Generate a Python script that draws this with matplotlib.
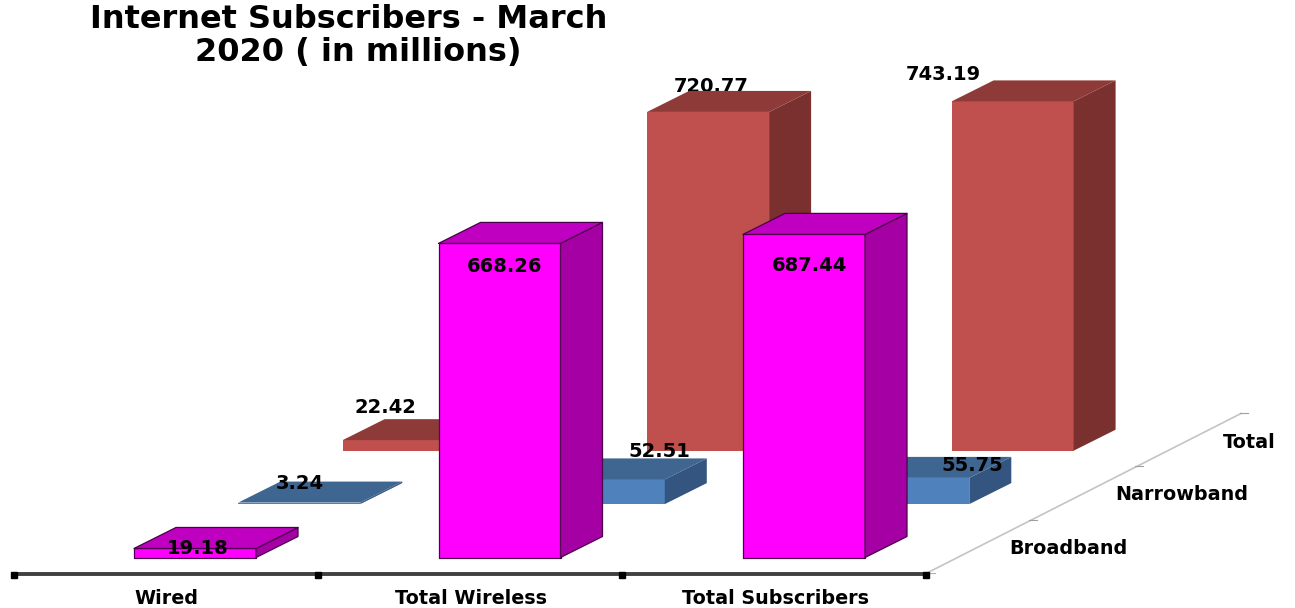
import matplotlib
matplotlib.use("Agg")
import matplotlib.pyplot as plt
from matplotlib.patches import Polygon

# ---- data ----
title_lines = ["Internet Subscribers - March", "2020 ( in millions)"]
categories = ["Wired", "Total Wireless", "Total Subscribers"]
series_names = ["Broadband", "Narrowband", "Total"]
broadband = [19.18, 668.26, 687.44]
narrowband = [3.24, 52.51, 55.75]
total = [22.42, 720.77, 743.19]
values = [broadband, narrowband, total]

# ---- oblique projection style (pixels) ----
W, H = 1295, 608
X0, Y0 = 134, 557.5      # front-left base of first bar
CAT_STEP = 304.5
SER_DX, SER_DY = 104.3, -53.4
BAR_W = 122
DEP_DX, DEP_DY = 42, -21
PX_PER_UNIT = 0.47

styles = [
    dict(front="#FF00FF", top="#C000C0", side="#A400A4", edge="#4A004A", lw=0.9),
    dict(front="#4F81BD", top="#3F6591", side="#34557F", edge="none", lw=0),
    dict(front="#C0504D", top="#8E3A38", side="#7A302E", edge="none", lw=0),
]
# label offsets from the bar's front-top centre: (dx, dy) per series / category
label_off = [
    [(3, 0), (5, 23), (5, 31)],
    [(0, -19), (56, -28), (64, -12)],
    [(-18, -33), (3, -25), (-69, -27)],
]
series_label_x = [1068, 1182, 1249]
series_label_y = [549, 495, 442]
category_label_x = [166, 471, 776]

fig = plt.figure(figsize=(W / 100, H / 100), dpi=100)
ax = fig.add_axes([0, 0, 1, 1])
ax.set_xlim(0, W)
ax.set_ylim(H, 0)
ax.axis("off")
FONT = "DejaVu Sans"


def origin(c, s):
    return X0 + c * CAT_STEP + s * SER_DX, Y0 + s * SER_DY


def draw_bar(c, s, v, st, z):
    x, y = origin(c, s)
    t = y - v * PX_PER_UNIT
    kw = dict(edgecolor=st["edge"], linewidth=st["lw"], joinstyle="round", zorder=z)
    ax.add_patch(Polygon([(x, y), (x + BAR_W, y), (x + BAR_W, t), (x, t)], facecolor=st["front"], **kw))
    ax.add_patch(Polygon([(x + BAR_W, y), (x + BAR_W + DEP_DX, y + DEP_DY),
                          (x + BAR_W + DEP_DX, t + DEP_DY), (x + BAR_W, t)], facecolor=st["side"], **kw))
    ax.add_patch(Polygon([(x, t), (x + BAR_W, t), (x + BAR_W + DEP_DX, t + DEP_DY),
                          (x + DEP_DX, t + DEP_DY)], facecolor=st["top"], **kw))


# floor axes
ax_y = 573.5
ax_x0, ax_x1 = 14, 926
n_cat = len(categories)
ax.plot([ax_x0, ax_x1], [ax_y, ax_y], color="#404040", lw=2.8, solid_capstyle="butt", zorder=1)
ax.plot([ax_x0 + i * (ax_x1 - ax_x0) / n_cat for i in range(n_cat + 1)],
        [ax_y + 1] * (n_cat + 1), ls="none", marker="s", ms=4.2, color="black", zorder=1.1)
ax.plot([ax_x1, 1241], [ax_y, 413.5], color="#C4C4C4", lw=1.2, zorder=1)
ax.plot([ax_x1 - 2, ax_x1 + 9], [ax_y - 1, ax_y - 1], color="#B0B0B0", lw=0.8, zorder=0.9)
for s in range(1, len(series_names) + 1):
    tx = ax_x1 + 105.3 * s + 1
    ty = ax_y - 53.6 * s
    ax.plot([tx - 3, tx + 5], [ty, ty], color="#A0A0A0", lw=0.8, zorder=1)

# bars, back to front
for s in reversed(range(len(values))):
    z = 3 + (len(values) - s)
    for c, v in enumerate(values[s]):
        draw_bar(c, s, v, styles[s], z + c * 0.1)

# value labels
txt = dict(family=FONT, fontweight="bold", color="black", ha="center", va="center", fontsize=14)
for s, row in enumerate(values):
    for c, v in enumerate(row):
        x, y = origin(c, s)
        dx, dy = label_off[s][c]
        # the 720.77 label sits beneath its own bar in the reference
        z = 2 if (s == 2 and c == 1) else 10
        ax.text(x + BAR_W / 2 + dx, y - v * PX_PER_UNIT + dy, f"{v:.2f}", zorder=z, **txt)

# category labels
for name, x in zip(categories, category_label_x):
    ax.text(x, 598, name, zorder=10, **{**txt, "fontsize": 13.8})

# series labels
for name, x, y in zip(series_names, series_label_x, series_label_y):
    ax.text(x, y, name, zorder=10, **{**txt, "fontsize": 13.8})

# title
for line, x, y in zip(title_lines, [349, 358], [19, 52]):
    ax.text(x, y, line, family=FONT, fontweight="bold", fontsize=23, color="black",
            ha="center", va="center", zorder=10)

fig.savefig("out.png", dpi=100)
